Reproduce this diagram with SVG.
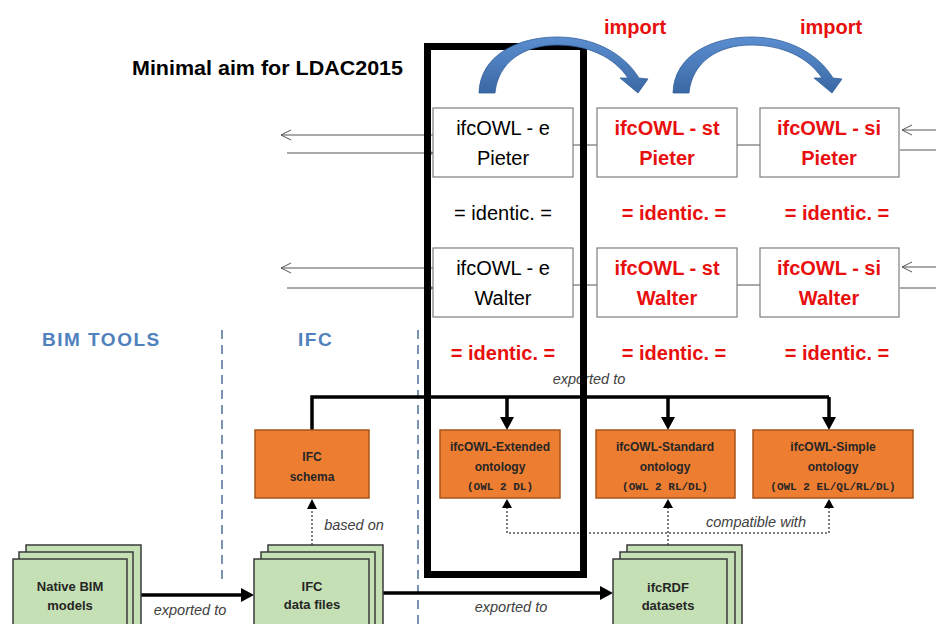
<svg xmlns="http://www.w3.org/2000/svg" width="936" height="624" viewBox="0 0 936 624">
<defs>
<style>
.tb{fill:#fff;stroke:#7f7f7f;stroke-width:1.2}
.tk{font-family:"Liberation Sans",Arial,sans-serif;font-size:20px;fill:#000;text-anchor:middle}
.tr{font-family:"Liberation Sans",Arial,sans-serif;font-size:20px;font-weight:bold;fill:#e8100e;text-anchor:middle}
.thin{stroke:#555;stroke-width:1;fill:none}
.hd{font-family:"Liberation Sans",Arial,sans-serif;font-size:19px;font-weight:bold;fill:#4f81bd;letter-spacing:1.5px}
.ob{fill:#ed7d31;stroke:#a9541b;stroke-width:1.5}
.ot{font-family:"Liberation Sans",Arial,sans-serif;font-size:12px;font-weight:bold;fill:#262626;text-anchor:middle}
.om{font-family:"Liberation Mono","Courier New",monospace;font-size:11px;font-weight:bold;fill:#262626;text-anchor:middle}
.gb{fill:#c5e0b4;stroke:#3a3a3a;stroke-width:1.5}
.gt{font-family:"Liberation Sans",Arial,sans-serif;font-size:13px;font-weight:bold;fill:#262626;text-anchor:middle}
.it{font-family:"Liberation Sans",Arial,sans-serif;font-size:14.5px;font-style:italic;fill:#404040;text-anchor:middle}
.bus{stroke:#000;stroke-width:3.5;fill:none}
.dot{stroke:#555;stroke-width:1.5;stroke-dasharray:2 2;fill:none}
.dash{stroke:#50709a;stroke-width:1.5;stroke-dasharray:9 6;fill:none}
</style>
<linearGradient id="bg" x1="0" y1="0" x2="0" y2="1">
<stop offset="0" stop-color="#5b8ed0"/>
<stop offset="1" stop-color="#3a68a4"/>
</linearGradient>
<path id="arc" d="M479 93 C480 55 518 37 557 37 C592 37 623 52 639 78 L648 79 L638 93 L620 78 L628 78 C614 57 588 45 557 45 C524 45 498 62 495 93 Z" fill="url(#bg)" stroke="#34609a" stroke-width="0.8"/>
</defs>

<text x="132" y="75" font-family="'Liberation Sans',Arial,sans-serif" font-size="21" font-weight="bold" fill="#000" textLength="271" lengthAdjust="spacingAndGlyphs">Minimal aim for LDAC2015</text>

<!-- section headings -->
<text class="hd" x="42" y="346">BIM TOOLS</text>
<text class="hd" x="298" y="346">IFC</text>

<g id="dividers">
<line class="dash" x1="222" y1="330" x2="222" y2="582"/>
<line class="dash" x1="418" y1="330" x2="418" y2="624"/>
</g>

<g id="connectors">
<!-- exported to bus -->
<path class="bus" d="M312 430 V397 H829"/>
<line class="bus" x1="507" y1="397" x2="507" y2="418"/>
<polygon points="500,417 514,417 507,430" fill="#000"/>
<line class="bus" x1="668" y1="397" x2="668" y2="418"/>
<polygon points="661,417 675,417 668,430" fill="#000"/>
<line class="bus" x1="829" y1="397" x2="829" y2="418"/>
<polygon points="822,417 836,417 829,430" fill="#000"/>
<text class="it" x="589" y="384">exported to</text>

<!-- compatible with -->
<path class="dot" d="M668 545 V507"/>
<polygon points="663,508 673,508 668,499" fill="#000"/>
<path class="dot" d="M507 507 V533 H829 V507"/>
<polygon points="502,508 512,508 507,499" fill="#000"/>
<polygon points="824,508 834,508 829,499" fill="#000"/>
<text class="it" x="756" y="527">compatible with</text>

<!-- based on -->
<path class="dot" d="M312 545 V508"/>
<polygon points="307,509 317,509 312,499" fill="#000"/>
<text class="it" x="354" y="530">based on</text>

<!-- exported to (bottom) -->
<line class="bus" x1="141" y1="595" x2="242" y2="595"/>
<polygon points="241,588 241,602 254,595" fill="#000"/>
<text class="it" x="190" y="615">exported to</text>
<line class="bus" x1="383" y1="593" x2="601" y2="593"/>
<polygon points="600,586 600,600 613,593" fill="#000"/>
<text class="it" x="511" y="612">exported to</text>

<!-- top row lines -->
<line class="thin" x1="573" y1="145" x2="597" y2="145"/>
<line class="thin" x1="737" y1="145" x2="760" y2="145"/>
<line class="thin" x1="573" y1="285" x2="597" y2="285"/>
<line class="thin" x1="737" y1="285" x2="760" y2="285"/>
<line class="thin" x1="281" y1="135" x2="433" y2="135"/>
<polyline class="thin" points="291,130 281,135 291,140"/>
<line class="thin" x1="287" y1="153" x2="433" y2="153"/>
<polyline class="thin" points="428,150 433,153 428,156"/>
<line class="thin" x1="281" y1="268" x2="433" y2="268"/>
<polyline class="thin" points="291,263 281,268 291,273"/>
<line class="thin" x1="287" y1="288" x2="433" y2="288"/>
<polyline class="thin" points="428,285 433,288 428,291"/>
<line class="thin" x1="902" y1="130" x2="936" y2="130"/>
<polyline class="thin" points="912,125 902,130 912,135"/>
<line class="thin" x1="900" y1="150" x2="936" y2="150"/>
<line class="thin" x1="902" y1="267" x2="936" y2="267"/>
<polyline class="thin" points="912,262 902,267 912,272"/>
<line class="thin" x1="900" y1="288" x2="936" y2="288"/>
</g>

<!-- orange boxes -->
<g id="ifc-schema">
<rect class="ob" x="255" y="430" width="114" height="68"/>
<text class="ot" x="312" y="461">IFC</text>
<text class="ot" x="312" y="481">schema</text>
</g>
<g id="ifcowl-extended">
<rect class="ob" x="440" y="430" width="120" height="68"/>
<text class="ot" x="500" y="451">ifcOWL-Extended</text>
<text class="ot" x="500" y="471">ontology</text>
<text class="om" x="500" y="490">(OWL 2 DL)</text>
</g>
<g id="ifcowl-standard">
<rect class="ob" x="596" y="430" width="139" height="68"/>
<text class="ot" x="665" y="451">ifcOWL-Standard</text>
<text class="ot" x="665" y="471">ontology</text>
<text class="om" x="665" y="490">(OWL 2 RL/DL)</text>
</g>
<g id="ifcowl-simple">
<rect class="ob" x="753" y="430" width="160" height="68"/>
<text class="ot" x="833" y="451">ifcOWL-Simple</text>
<text class="ot" x="833" y="471">ontology</text>
<text class="om" x="833" y="490">(OWL 2 EL/QL/RL/DL)</text>
</g>

<!-- green stacks -->
<g id="native-bim">
<rect class="gb" x="26" y="545" width="115" height="90"/>
<rect class="gb" x="19" y="552" width="114" height="90"/>
<rect class="gb" x="13" y="559" width="114" height="90"/>
<text class="gt" x="70" y="591">Native BIM</text>
<text class="gt" x="70" y="610">models</text>
</g>
<g id="ifc-data-files">
<rect class="gb" x="268" y="545" width="115" height="90"/>
<rect class="gb" x="261" y="552" width="114" height="90"/>
<rect class="gb" x="254" y="559" width="115" height="90"/>
<text class="gt" x="312" y="591">IFC</text>
<text class="gt" x="312" y="609">data files</text>
</g>
<g id="ifcrdf-datasets">
<rect class="gb" x="627" y="545" width="115" height="90"/>
<rect class="gb" x="620" y="552" width="115" height="90"/>
<rect class="gb" x="613" y="559" width="114" height="90"/>
<text class="gt" x="668" y="592">ifcRDF</text>
<text class="gt" x="668" y="610">datasets</text>
</g>

<!-- top ontology boxes -->
<g id="e-pieter">
<rect class="tb" x="433" y="108" width="140" height="69"/>
<text class="tk" x="503" y="135">ifcOWL - e</text>
<text class="tk" x="503" y="165">Pieter</text>
</g>
<g id="st-pieter">
<rect class="tb" x="597" y="108" width="140" height="69"/>
<text class="tr" x="667" y="135">ifcOWL - st</text>
<text class="tr" x="667" y="165">Pieter</text>
</g>
<g id="si-pieter">
<rect class="tb" x="760" y="108" width="139" height="69"/>
<text class="tr" x="829" y="135">ifcOWL - si</text>
<text class="tr" x="829" y="165">Pieter</text>
</g>
<g id="e-walter">
<rect class="tb" x="433" y="248" width="140" height="69"/>
<text class="tk" x="503" y="275">ifcOWL - e</text>
<text class="tk" x="503" y="305">Walter</text>
</g>
<g id="st-walter">
<rect class="tb" x="597" y="248" width="140" height="69"/>
<text class="tr" x="667" y="275">ifcOWL - st</text>
<text class="tr" x="667" y="305">Walter</text>
</g>
<g id="si-walter">
<rect class="tb" x="760" y="248" width="139" height="69"/>
<text class="tr" x="829" y="275">ifcOWL - si</text>
<text class="tr" x="829" y="305">Walter</text>
</g>

<!-- identic labels -->
<text class="tk" x="503" y="220">= identic. =</text>
<text class="tr" x="674" y="220">= identic. =</text>
<text class="tr" x="837" y="220">= identic. =</text>
<text class="tr" x="503" y="360">= identic. =</text>
<text class="tr" x="674" y="360">= identic. =</text>
<text class="tr" x="837" y="360">= identic. =</text>

<!-- highlight frame -->
<rect x="427.5" y="46.5" width="156" height="528" fill="none" stroke="#000" stroke-width="7"/>

<!-- import arrows -->
<g id="import-arrows">
<use href="#arc"/>
<use href="#arc" transform="translate(194,0)"/>
<text class="tr" x="635" y="34">import</text>
<text class="tr" x="831" y="34">import</text>
</g>
</svg>
